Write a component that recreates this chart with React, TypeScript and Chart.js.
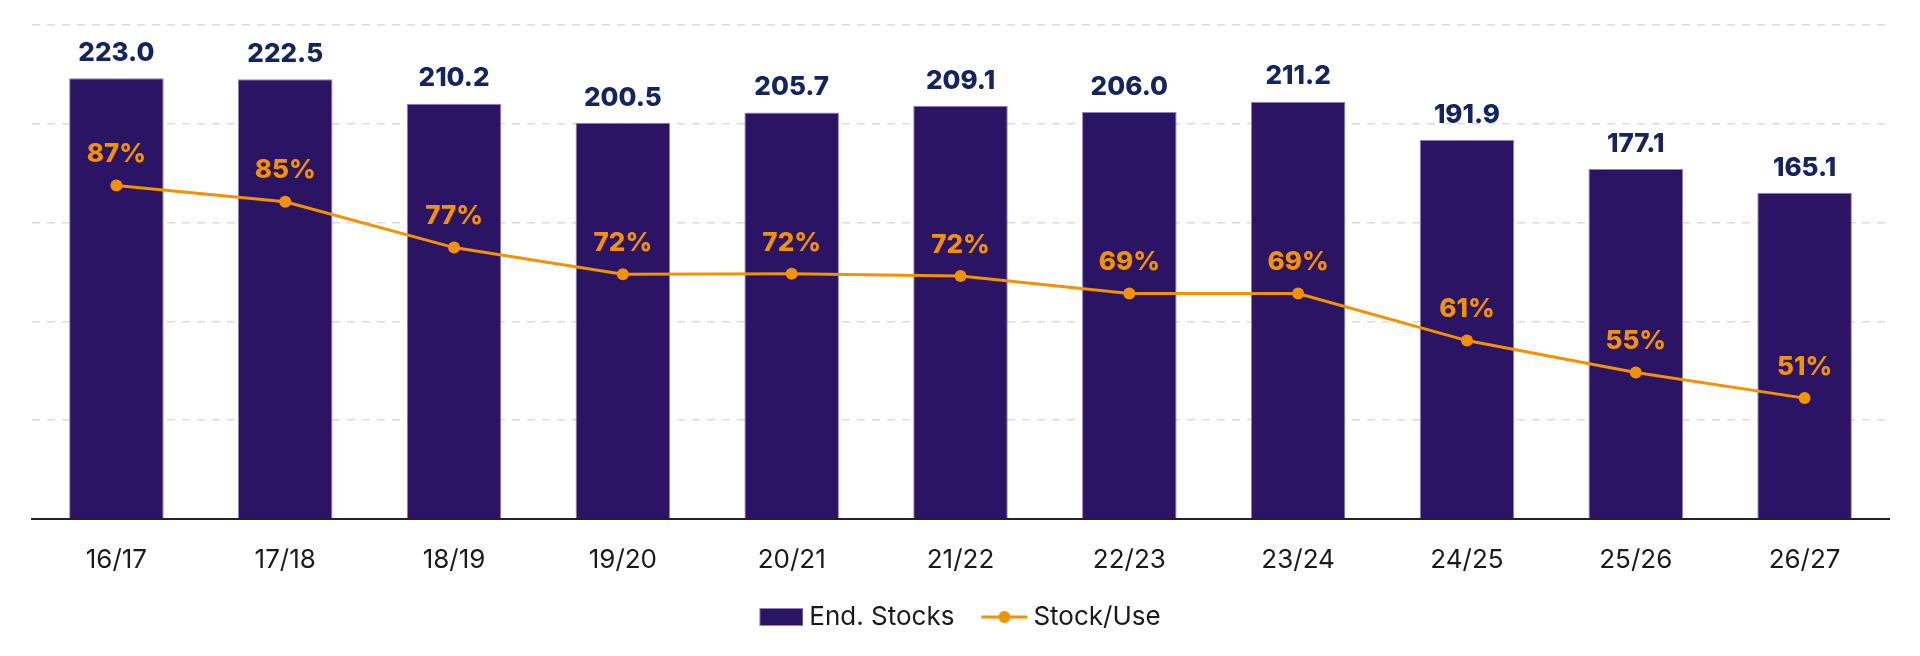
import React, { useEffect, useRef } from 'react';
import { Chart, registerables } from 'chart.js';

Chart.register(...registerables);

const categories = ['16/17', '17/18', '18/19', '19/20', '20/21', '21/22', '22/23', '23/24', '24/25', '25/26', '26/27'];
const endStocks = [223.0, 222.5, 210.2, 200.5, 205.7, 209.1, 206.0, 211.2, 191.9, 177.1, 165.1];
const stockUse = [87.4, 84.6, 76.7, 72.1, 72.2, 71.8, 68.8, 68.8, 60.7, 55.2, 50.8];
const seriesNames = ['End. Stocks', 'Stock/Use'];

const PURPLE = '#2c1464';
const ORANGE = '#f39200';
const NAVY = '#14245e';
const TEXT = '#1a1a1a';
const FONT = 'Inter';

// labels above bars and points
const valueLabels = {
    id: 'valueLabels',
    afterDatasetsDraw(chart: any) {
        const ctx = chart.ctx;
        ctx.save();
        ctx.textAlign = 'center';
        ctx.textBaseline = 'middle';
        ctx.font = `800 26px ${FONT}`;
        ctx.fillStyle = NAVY;
        chart.getDatasetMeta(0).data.forEach((bar: any, i: number) => {
            ctx.fillText(endStocks[i].toFixed(1), bar.x, bar.y - 25);
        });
        ctx.fillStyle = ORANGE;
        chart.getDatasetMeta(1).data.forEach((pt: any, i: number) => {
            ctx.fillText(Math.round(stockUse[i]) + '%', pt.x, pt.y - 31);
        });
        ctx.restore();
    },
};

// legend icons, drawn off-centre so the text sits close to them
function makeBarIcon() {
    const c = document.createElement('canvas');
    c.width = 50;
    c.height = 18;
    const g = c.getContext('2d')!;
    g.fillStyle = PURPLE;
    g.fillRect(6, 0, 44, 18);
    g.strokeStyle = '#8e84b8';
    g.strokeRect(6.5, 0.5, 43, 17);
    return c;
}

function makeLineIcon() {
    const c = document.createElement('canvas');
    c.width = 50;
    c.height = 14;
    const g = c.getContext('2d')!;
    g.strokeStyle = ORANGE;
    g.lineWidth = 3;
    g.beginPath();
    g.moveTo(4, 7);
    g.lineTo(50, 7);
    g.stroke();
    g.fillStyle = ORANGE;
    g.beginPath();
    g.arc(27, 7, 6, 0, Math.PI * 2);
    g.fill();
    return c;
}

const App: React.FC = () => {
    const chartRef = useRef<HTMLCanvasElement | null>(null);

    useEffect(() => {
        document.body.style.margin = '0';
        if (!chartRef.current) return;
        const ctx = chartRef.current.getContext('2d');
        if (!ctx) return;

        const barIcon = makeBarIcon();
        const lineIcon = makeLineIcon();

        const chart = new Chart(ctx, {
            type: 'bar',
            data: {
                labels: categories,
                datasets: [
                    {
                        type: 'bar',
                        label: seriesNames[0],
                        data: endStocks,
                        backgroundColor: PURPLE,
                        borderColor: '#8e84b8',
                        borderWidth: 1,
                        barPercentage: 0.56,
                        categoryPercentage: 1,
                        yAxisID: 'y',
                        order: 2,
                    },
                    {
                        type: 'line',
                        label: seriesNames[1],
                        data: stockUse,
                        borderColor: ORANGE,
                        backgroundColor: ORANGE,
                        borderWidth: 3,
                        pointRadius: 6,
                        pointBackgroundColor: ORANGE,
                        pointBorderWidth: 0,
                        tension: 0,
                        yAxisID: 'y1',
                        order: 1,
                    },
                ],
            },
            options: {
                responsive: false,
                animation: false,
                layout: {
                    padding: { top: 25, left: 32, right: 31, bottom: 16 },
                },
                scales: {
                    x: {
                        grid: { display: false },
                        border: { display: true, color: '#222222', width: 2 },
                        ticks: {
                            padding: 18,
                            color: TEXT,
                            font: { family: FONT, size: 26 },
                        },
                        afterFit: (scale: any) => {
                            scale.height = 55;
                        },
                    },
                    y: {
                        min: 0,
                        max: 250,
                        ticks: { display: false, stepSize: 50 },
                        grid: {
                            color: '#dcdcdc',
                            lineWidth: 1.5,
                            drawTicks: false,
                        },
                        border: { display: false, dash: [8, 7] },
                    },
                    y1: {
                        display: false,
                        position: 'right',
                        min: 30,
                        max: 115,
                    },
                },
                plugins: {
                    legend: {
                        position: 'bottom',
                        labels: {
                            usePointStyle: true,
                            pointStyleWidth: 36,
                            padding: 30,
                            color: TEXT,
                            font: { family: FONT, size: 26 },
                            generateLabels: () => [
                                {
                                    text: seriesNames[0],
                                    pointStyle: barIcon,
                                    fillStyle: PURPLE,
                                    strokeStyle: PURPLE,
                                    lineWidth: 0,
                                    hidden: false,
                                    datasetIndex: 0,
                                    fontColor: TEXT,
                                },
                                {
                                    text: seriesNames[1],
                                    pointStyle: lineIcon,
                                    fillStyle: ORANGE,
                                    strokeStyle: ORANGE,
                                    lineWidth: 0,
                                    hidden: false,
                                    datasetIndex: 1,
                                    fontColor: TEXT,
                                },
                            ],
                        },
                    },
                    tooltip: { enabled: false },
                },
            },
            plugins: [valueLabels],
        });

        return () => {
            chart.destroy();
        };
    }, []);

    return <canvas ref={chartRef} width={1920} height={656} />;
};

export default App;
